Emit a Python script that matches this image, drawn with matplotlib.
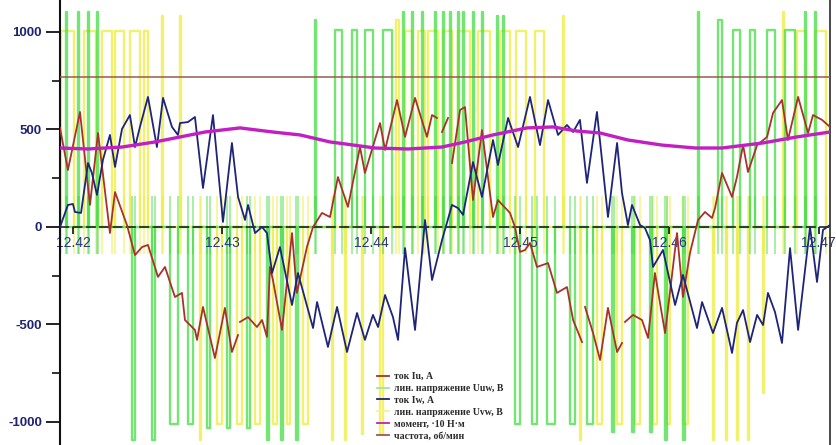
import numpy as np
import matplotlib
matplotlib.use("Agg")
import matplotlib.pyplot as plt
from matplotlib.lines import Line2D

plt.rcParams['font.family'] = ['Liberation Sans', 'DejaVu Sans']

T0 = 12.42  # s; all times below are in ms after T0

# --- current Iu, A (red) ---
iu_ms = [-0.87, -0.34, 0.47, 1.14, 1.68, 2.48, 2.82, 3.62, 4.16, 4.63, 5.03, 5.70, 6.17, 6.84,
         7.31, 7.51, 8.18, 8.32, 8.72, 9.52, 10.19, 10.66, 11.07, 11.13, 11.20, 11.74, 12.34,
         12.68, 13.01, 13.21, 13.41, 14.02, 14.69, 15.02, 15.69, 16.10, 16.70, 17.24, 17.77,
         18.44, 19.25, 19.58, 20.59, 20.93, 21.73, 22.27, 22.94, 23.74, 24.08, 24.41, 24.58,
         24.75, 25.15, 25.30, 25.42, 25.96, 26.29, 26.83, 27.43, 28.17, 28.50, 29.31, 29.64,
         29.98, 30.32, 30.65, 31.12, 31.86, 32.46, 33.13, 33.54, 34.14, 34.24, 34.34, 34.88,
         35.35, 35.88, 36.49, 36.82, 36.92, 37.02, 37.56, 38.16, 38.57, 39.03, 39.71, 40.51,
         40.91, 41.38, 41.92, 42.39, 42.86, 43.06, 43.53, 44.20, 44.53, 44.94, 45.27, 45.88,
         46.55, 46.95, 47.55, 47.95, 48.63, 49.30, 49.63, 50.24, 50.77]
iu_val = [508, 292, 590, 113, 482, -31, 179, 10, -144, -103, -92, -256, -205, -359,
          -338, -477, -528, -579, -410, -672, -415, -641, -554, np.nan, -487, -462, -513,
          -477, -564, -205, -272, -528, -31, -338, -103, 0, 72, 51, 256,
          103, 410, 277, 533, 395, 651, 462, 662, 462, 574, 559, np.nan,
          487, 559, np.nan, 328, 600, 615, 138, 497, 51, 138, 72, 0,
          -128, -118, -82, -205, -185, -338, -308, -477, -590, np.nan, -410, -544,
          -682, -415, -641, -595, np.nan, -487, -451, -477, -569, -236, -544, -31,
          -359, -133, 36, 77, 46, 97, 277, 154, 256, 420, 282, 420,
          462, 585, 651, 446, 667, 482, 574, 549, 513]

# --- current Iw, A (navy) ---
iw_ms = [-0.87, -0.34, 0.00, 0.13, 0.54, 1.01, 1.27, 1.61, 2.01, 2.48, 2.82, 3.29, 3.82, 4.16,
         4.49, 5.03, 5.63, 6.04, 6.64, 7.04, 7.18, 7.71, 8.18, 8.72, 9.39, 10.06, 10.66, 11.07,
         11.54, 11.74, 12.21, 12.68, 13.01, 13.35, 13.88, 14.69, 15.09, 16.10, 16.37, 17.10,
         17.71, 18.38, 19.05, 19.58, 20.12, 20.46, 20.93, 21.46, 21.80, 22.27, 22.94, 23.61,
         24.08, 24.75, 25.42, 25.82, 26.16, 26.83, 27.43, 28.17, 28.50, 29.18, 29.85, 30.65,
         31.32, 31.86, 32.53, 33.13, 33.54, 34.00, 34.47, 35.14, 35.88, 36.49, 36.82, 37.22,
         37.49, 38.03, 38.36, 38.70, 38.90, 39.57, 40.38, 40.91, 41.85, 42.19, 42.92, 43.53,
         44.20, 44.53, 44.94, 45.41, 45.88, 46.28, 46.61, 47.08, 47.55, 48.09, 48.63, 49.43,
         49.90, 50.30, 50.77]
iw_val = [0, 113, 118, 77, 72, 328, 277, 164, 344, 472, 308, 503, 574, 410,
          513, 667, 410, 662, 513, 472, 533, 538, 564, 200, 574, 26, 431, 154,
          36, 113, -31, 0, -31, -236, -103, -400, -236, -518, -385, -615,
          -410, -641, -441, -579, -451, -513, -349, -462, -579, -108, -528, 36,
          -272, -67, 113, 97, 62, 333, 154, 446, 318, 559, 410, 667,
          420, 651, 472, 523, 487, 549, 226, 590, 51, 431, 174, 10,
          113, 10, -5, -67, -205, -118, -400, -246, -518, -385, -544, -415,
          -646, -492, -426, -590, -451, -503, -338, -436, -595, -108, -528, 0,
          -282, -15, 10]

# --- torque, x10 N*m (magenta) ---
m_ms = [-0.87, 1.01, 3.29, 5.50, 8.85, 11.20, 13.41, 15.23, 17.24, 18.24, 20.26, 22.47, 24.75,
        26.29, 28.17, 30.45, 32.19, 33.80, 35.35, 37.22, 39.50, 41.72, 43.53, 46.28, 48.56, 50.77]
m_val = [405, 400, 410, 436, 487, 508, 487, 472, 436, 426, 405, 400, 410,
         436, 472, 508, 513, 492, 482, 446, 420, 405, 405, 431, 462, 487]

# --- speed, rpm (brown) ---
speed_val = 770

# --- line voltage Uuw, V (green): pulse start / end (ms) and level ---
uuw_on = [-0.47, 0.34, 1.01, 1.61, 3.96, 5.30, 6.51, 7.71, 8.99, 10.33, 11.67, 13.01, 13.95, 14.96,
          16.23, 17.57, 18.71, 19.58, 20.79, 22.13, 22.74, 23.41, 24.28, 24.82, 25.29, 25.82,
          26.16, 26.83, 27.43, 28.44, 28.84, 29.64, 30.78, 31.79, 33.33, 34.47, 36.15, 37.49,
          38.70, 39.70, 40.91, 41.92, 43.26, 44.27, 45.41, 46.55, 47.75, 49.09, 49.77]
uuw_off = [-0.40, 0.40, 1.07, 1.68, 4.16, 5.50, 7.04, 8.05, 9.19, 10.53, 11.87, 13.15, 14.08, 15.09,
           16.30, 18.04, 19.05, 20.12, 21.40, 22.20, 22.80, 23.47, 24.35, 24.88, 25.35, 25.89,
           26.22, 26.89, 27.50, 28.50, 28.91, 29.98, 31.12, 32.33, 33.67, 34.88, 36.28, 37.63,
           38.83, 39.84, 41.05, 41.99, 43.53, 44.73, 45.74, 47.08, 48.42, 49.16, 49.83]
uuw_lvl = [1100, 1100, 1100, 1100, -1090, -1090, -1010, -1010, -1030, -1030, -1030, -1090, -1090, -1090,
           1060, 1010, 1010, 1010, 1010, 1100, 1100, 1100, 1100, 1100, 1100, 1100,
           1100, 1100, 1100, 1080, 1080, -1010, -1010, -1010, -1010, -1010, -1050, -1050,
           -1050, -1090, -1090, 1100, 1060, 1010, 1010, 1010, 1010, 1100, 1100]

# --- line voltage Uvw, V (yellow) ---
uvw_on = [-0.80, 0.74, 1.95, 2.82, 3.82, 4.76, 5.97, 7.18, 8.52, 9.66, 11.00, 12.21, 13.41, 14.35,
          15.43, 17.37, 18.24, 19.38, 20.59, 21.66, 22.27, 23.14, 23.81, 24.82, 25.82, 27.16,
          28.64, 29.71, 30.99, 32.86, 34.00, 35.14, 36.49, 37.69, 38.90, 39.84, 40.91, 42.92,
          43.80, 44.53, 45.27, 46.28, 47.62, 48.56, 49.77]
uvw_off = [0.07, 1.54, 2.62, 3.42, 4.49, 5.03, 6.04, 7.24, 8.58, 9.99, 11.33, 12.54, 13.68, 14.55,
           15.76, 17.44, 18.31, 19.45, 20.79, 21.86, 22.74, 23.61, 24.48, 25.42, 26.63, 27.97,
           29.31, 30.38, 31.59, 32.93, 34.07, 35.48, 36.82, 38.03, 39.17, 40.04, 41.25, 42.99,
           43.86, 44.60, 45.34, 46.34, 47.69, 49.16, 50.50]
uvw_lvl = [1005, 1005, 1005, 1005, 1005, 1005, 1080, 1080, -1090, -1010, -1010, -1010, -1010, -1010,
           -1010, -1090, -1090, -1060, -1060, 1060, 1005, 1005, 1005, 1005, 1005, 1005,
           1005, 1005, 1005, 1080, -1090, -1010, -1010, -1010, -1010, -1010, -1010, -1090,
           -1090, -1090, -1090, -850, 1100, 1005, 1005]

x_ticks = [12.42, 12.43, 12.44, 12.45, 12.46, 12.47]
x_ticklabels = ['12.42', '12.43', '12.44', '12.45', '12.46', '12.47']
y_ticks = [-1000, -500, 0, 500, 1000]
y_minor = [-750, -250, 250, 750]

labels = ['ток Iu, А', 'лин. напряжение Uuw, В', 'ток Iw, А',
          'лин. напряжение Uvw, В', 'момент, ·10 Н·м', 'частота, об/мин']

C_RED = '#a8322a'
C_GREEN = '#44dd44'
C_NAVY = '#1e2478'
C_YELLOW = '#eeee4a'
C_MAG = '#c21fc2'
C_BROWN = '#9a5a4e'


def to_t(ms):
    return T0 + np.asarray(ms, dtype=float) / 1000.0


def pulse_path(on, off, lvl):
    xs, ys = [], []
    for a, b, l in zip(on, off, lvl):
        xs += [a, a, b, b]
        ys += [0, l, l, 0]
    return to_t(xs), np.array(ys, dtype=float)


fig = plt.figure(figsize=(8.37, 4.45), dpi=100)
ax = fig.add_axes([60 / 837, 0.0, 770 / 837, 1.0])

# voltages
yt, yv = pulse_path(uvw_on, uvw_off, uvw_lvl)
ax.plot(yt, yv, color=C_YELLOW, lw=1.7, alpha=0.8, zorder=1)
ax.vlines(to_t(uvw_on + uvw_off), -140, 160, color=C_YELLOW, lw=1.2, alpha=0.6, zorder=1)
gt, gv = pulse_path(uuw_on, uuw_off, uuw_lvl)
ax.plot(gt, gv, color=C_GREEN, lw=1.7, alpha=0.75, zorder=1.5)
ax.vlines(to_t(uuw_on + uuw_off), -140, 160, color=C_GREEN, lw=1.2, alpha=0.55, zorder=1.5)

# speed
ax.axhline(speed_val, color=C_BROWN, lw=1.1, zorder=3)

# currents and torque
ax.plot(to_t(iu_ms), iu_val, color=C_RED, lw=1.3, zorder=4)
ax.plot(to_t(iw_ms), iw_val, color=C_NAVY, lw=1.3, zorder=4)
ax.plot(to_t(m_ms), m_val, color=C_MAG, lw=2.4, zorder=5)

ax.set_xlim(to_t(-0.87), to_t(50.77))
ax.set_ylim(-1118, 1164)

# spines
ax.spines['top'].set_visible(False)
ax.spines['left'].set_linewidth(1.5)
ax.spines['left'].set_color('#111111')
ax.spines['right'].set_linewidth(1.3)
ax.spines['right'].set_color('#3a3a3a')
ax.spines['bottom'].set_position(('data', 0))
ax.spines['bottom'].set_linestyle((0, (5, 3)))
ax.spines['bottom'].set_linewidth(1.2)
ax.spines['bottom'].set_color('#222222')
ax.spines['bottom'].set_zorder(3.5)

ax.set_yticks(y_ticks)
ax.set_yticks(y_minor, minor=True)
ax.set_yticklabels([str(v) for v in y_ticks], fontweight='bold')
ax.tick_params(axis='y', which='major', direction='out', length=10, width=1.3,
               color='#111111', labelsize=9.5, labelcolor='#1f2470', pad=3)
ax.tick_params(axis='y', which='minor', direction='out', length=6, width=1.2, color='#111111')

ax.set_xticks(x_ticks)
ax.set_xticklabels(x_ticklabels)
ax.tick_params(axis='x', which='major', direction='out', length=5, width=1.2,
               color='#111111', labelsize=10, labelcolor='#2a3580', pad=1.5)

handles = [Line2D([], [], color=c, lw=1.3) for c in
           [C_RED, '#9ee69e', C_NAVY, '#f2f29a', C_MAG, C_BROWN]]
leg = ax.legend(handles, labels, loc='upper left', bbox_to_anchor=(0.405, 0.175),
                frameon=False, borderpad=0, handlelength=1.3, handletextpad=0.5,
                labelspacing=0.3, prop={'family': ['Liberation Serif', 'DejaVu Serif'],
                                        'weight': 'bold', 'size': 7})
for txt in leg.get_texts():
    txt.set_color('#2a2a2a')

fig.savefig('out.png', dpi=100)
